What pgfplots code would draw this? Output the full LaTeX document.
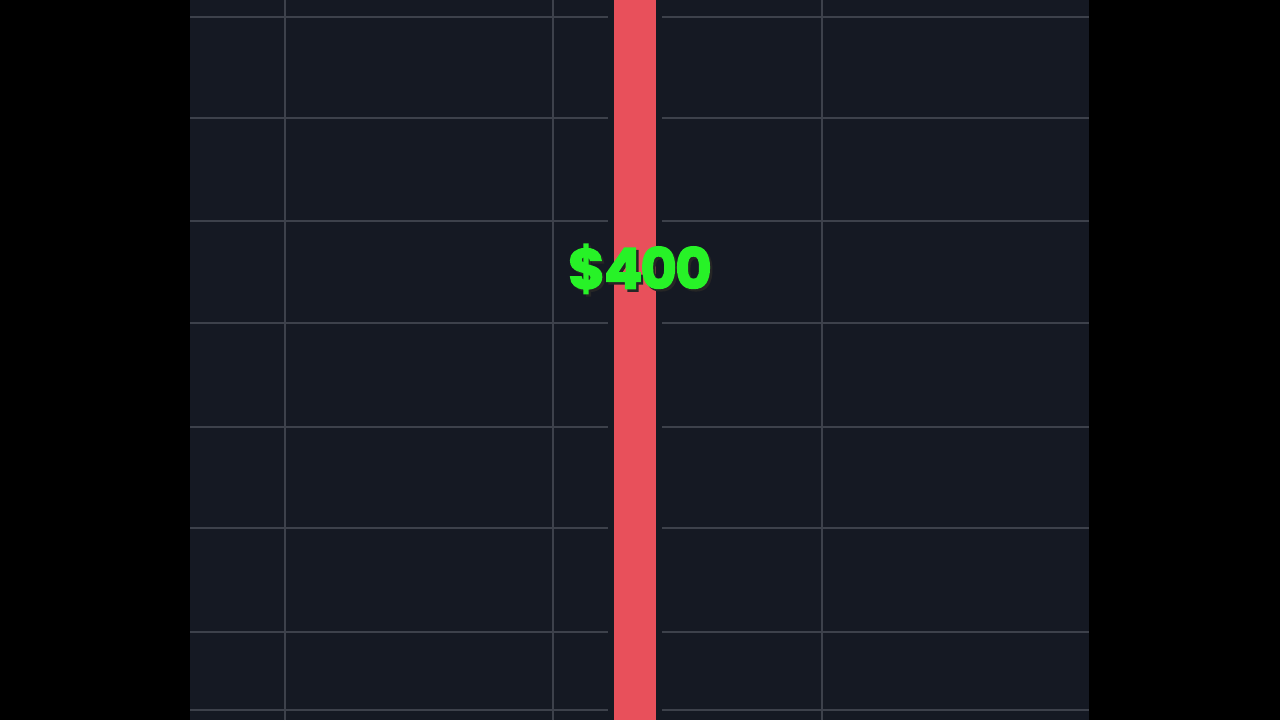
\documentclass[border=0pt]{standalone}
\usepackage{pgfplots}
\pgfplotsset{compat=1.18}
\usepackage{fontspec}
\newfontfamily\pricefont{Poppins}[BoldFeatures={FakeBold=3}, LetterSpace=-3]

\definecolor{panel}{HTML}{151923}
\definecolor{gridc}{HTML}{3D414B}
\definecolor{barred}{HTML}{E8505B}
\definecolor{pricegreen}{HTML}{27F227}

\newcommand{\price}{\$\kern-0.5pt 400}

\begin{document}
\begin{tikzpicture}
  % black frame, 1 px = 0.5pt
  \fill[black, use as bounding box] (0,0) rectangle (640pt,360pt);
  \begin{axis}[
    at={(95pt,0pt)}, anchor=south west,
    scale only axis,
    width=449.5pt, height=360pt,
    xmin=190, xmax=1089, ymin=0, ymax=720,
    axis background/.style={fill=panel},
    axis line style={draw=none},
    tick style={draw=none},
    xtick={285,553,822},
    ytick={10,88,192,293,397,499,602,703},
    xticklabels={}, yticklabels={},
    grid=major,
    major grid style={gridc, line width=1.4pt},
  ]
  % price bar (dark edge, then red fill)
  \addplot[fill=panel, draw=none] coordinates {(608,0) (662,0) (662,720) (608,720)} --cycle;
  \addplot[fill=barred, draw=none] coordinates {(614,0) (656,0) (656,720) (614,720)} --cycle;

  \node[font=\pricefont\bfseries\fontsize{28}{28}\selectfont, inner sep=0pt]
    at (axis cs:640,450)
    {\rlap{\hspace{1.2pt}\raisebox{-1.2pt}{\color{black!85}\price}}\color{pricegreen}\price};
  \end{axis}
\end{tikzpicture}
\end{document}
